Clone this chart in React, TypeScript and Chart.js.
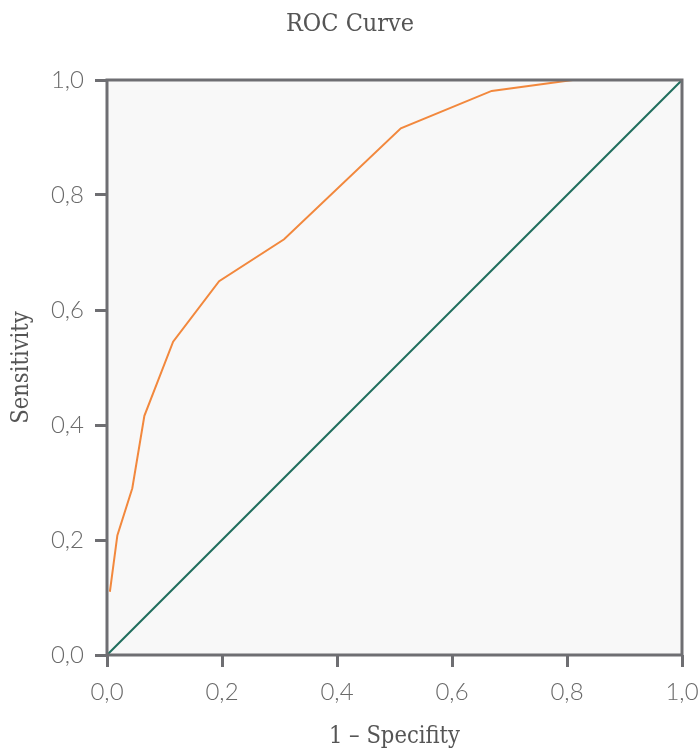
import React, { useEffect, useRef } from "react";
import { Chart, registerables } from "chart.js";

Chart.register(...registerables);

const fprValues = [0.005, 0.018, 0.044, 0.065, 0.115, 0.195, 0.308, 0.511, 0.669, 0.81, 1.0];
const tprValues = [0.11, 0.208, 0.29, 0.416, 0.545, 0.65, 0.723, 0.916, 0.981, 1.0, 1.0];
const diagonalX = [0, 1];
const diagonalY = [0, 1];
const tickValues = [0, 0.2, 0.4, 0.6, 0.8, 1.0];

const GREY = "#6e6e72";
const TEXT = "#555555";
const SERIF = "'DejaVu Serif Condensed', 'DejaVu Serif', serif";

const framePlugin = {
  id: "frame",
  beforeDatasetsDraw(chart: any) {
    const { ctx, chartArea: a } = chart;
    ctx.save();
    ctx.fillStyle = "#f8f8f8";
    ctx.fillRect(a.left, a.top, a.right - a.left, a.bottom - a.top);
    ctx.restore();
  },
  afterDatasetsDraw(chart: any) {
    const { ctx, chartArea: a } = chart;
    ctx.save();
    ctx.strokeStyle = GREY;
    ctx.lineWidth = 3;
    ctx.strokeRect(a.left, a.top, a.right - a.left, a.bottom - a.top);
    ctx.restore();
  },
};

export default function App() {
  const ref = useRef<HTMLCanvasElement>(null);
  useEffect(() => {
    if (!ref.current) return;
    const fmt = (v: any) => Number(v).toFixed(1).replace(".", ",");
    const chart = new Chart(ref.current, {
      type: "scatter",
      data: {
        datasets: [
          {
            data: fprValues.map((x, i) => ({ x, y: tprValues[i] })),
            showLine: true,
            borderColor: "#f2883d",
            borderWidth: 2,
            pointRadius: 0,
            tension: 0,
          },
          {
            data: diagonalX.map((x, i) => ({ x, y: diagonalY[i] })),
            showLine: true,
            borderColor: "#206e5e",
            borderWidth: 2,
            pointRadius: 0,
          },
        ],
      },
      options: {
        responsive: false,
        animation: false,
        layout: { padding: { left: 0, right: 0, top: 0, bottom: 0 } },
        plugins: {
          legend: { display: false },
          tooltip: { enabled: false },
          title: {
            display: true,
            text: "ROC Curve",
            color: TEXT,
            font: { family: SERIF, size: 25, weight: "normal", lineHeight: 1.2 },
            padding: { top: 9, bottom: 41 },
          },
        },
        scales: {
          x: {
            type: "linear",
            min: 0,
            max: 1,
            afterFit: (s: any) => {
              s.height = 94;
              s.paddingRight = 18;
            },
            afterBuildTicks: (s: any) => {
              s.ticks = tickValues.map((v) => ({ value: v }));
            },
            border: { display: false },
            grid: {
              drawOnChartArea: false,
              drawTicks: true,
              tickLength: 12,
              lineWidth: 3,
              color: GREY,
            },
            ticks: {
              padding: 11,
              color: "#6a6a6a",
              font: { family: "Lato", size: 24, weight: 300 },
              callback: fmt,
              maxRotation: 0,
            },
            title: {
              display: true,
              text: "1 – Specifity",
              color: TEXT,
              font: { family: SERIF, size: 23.5, weight: "normal", lineHeight: 1.2 },
              padding: { top: 0, bottom: -2 },
            },
          },
          y: {
            type: "linear",
            min: 0,
            max: 1,
            afterFit: (s: any) => {
              s.width = 107;
            },
            afterBuildTicks: (s: any) => {
              s.ticks = tickValues.map((v) => ({ value: v }));
            },
            border: { display: false },
            grid: {
              drawOnChartArea: false,
              drawTicks: true,
              tickLength: 12,
              lineWidth: 3,
              color: GREY,
            },
            ticks: {
              padding: 11,
              color: "#6a6a6a",
              font: { family: "Lato", size: 24, weight: 300 },
              callback: fmt,
            },
            title: {
              display: true,
              text: "Sensitivity",
              color: TEXT,
              font: { family: SERIF, size: 23.5, weight: "normal", lineHeight: 1.2 },
              padding: { top: 8, bottom: 0 },
            },
          },
        },
      },
      plugins: [framePlugin],
    } as any);
    return () => chart.destroy();
  }, []);
  return (
    <div style={{ position: "absolute", left: 0, top: 0, width: 700, height: 749 }}>
      <canvas ref={ref} width={700} height={749} style={{ width: 700, height: 749 }} />
    </div>
  );
}
